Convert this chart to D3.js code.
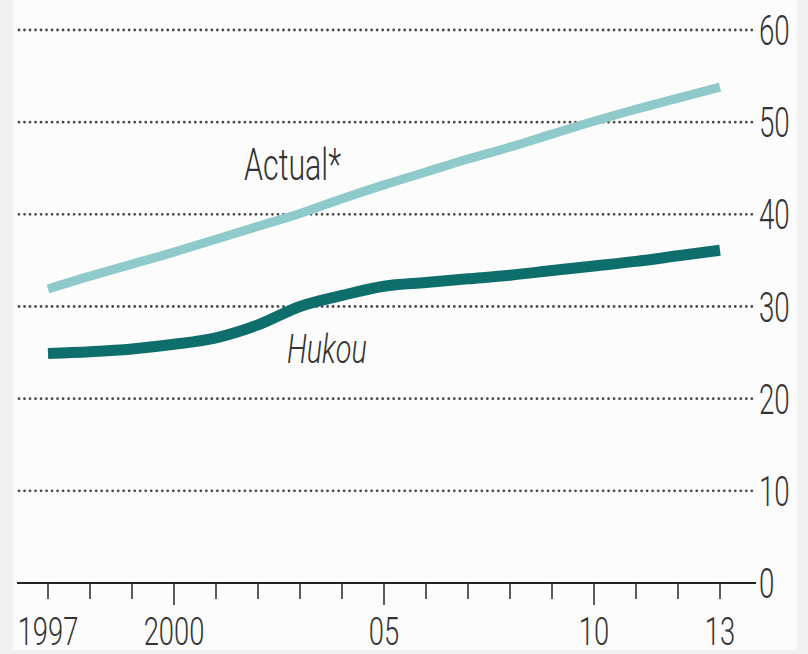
<!DOCTYPE html>
<html><head><meta charset="utf-8">
<script src="https://cdn.jsdelivr.net/npm/d3@7"></script>
<style>
html,body{margin:0;padding:0;background:#f1f1f1;}
svg{display:block;}
text{font-family:"Roboto","Liberation Sans",sans-serif;font-weight:300;fill:#333;}
</style></head>
<body><svg id="c" width="808" height="654"></svg>
<script>
const years = [1997,1998,1999,2000,2001,2002,2003,2004,2005,2006,2007,2008,2009,2010,2011,2012,2013];
const actual = [31.9,33.3,34.6,35.9,37.3,38.7,40.1,41.7,43.2,44.6,46.0,47.3,48.7,50.1,51.4,52.6,53.8];
const hukou = [24.9,25.1,25.4,25.9,26.6,28.0,30.0,31.2,32.2,32.6,33.0,33.4,33.9,34.4,34.9,35.5,36.1];
const yTicks = [0,10,20,30,40,50,60];
const xLabelYears = [1997,2000,2005,2010,2013];
const xLabels = ["1997","2000","05","10","13"];
const majorYears = [2000,2005,2010];

const svg = d3.select("#c");
svg.append("rect").attr("x",13).attr("y",0).attr("width",784).attr("height",650).attr("fill","#fcfcfc");

const x = d3.scaleLinear().domain([1997,2013]).range([48,720]);
const y = d3.scaleLinear().domain([0,60]).range([583,30]);

function narrowText(g, px, py, str, size, sx, anchor, italic){
  const t = g.append("g").attr("transform",`translate(${px},${py}) scale(${sx},1)`)
    .append("text").attr("font-size",size).attr("text-anchor",anchor||"start").text(str);
  if(italic) t.attr("font-style","italic");
  return t;
}

// gridlines
svg.append("g").selectAll("line").data(yTicks.filter(d=>d>0)).join("line")
  .attr("x1",19).attr("x2",756).attr("y1",d=>y(d)).attr("y2",d=>y(d))
  .attr("stroke","#4a4a4a").attr("stroke-width",2.8).attr("stroke-linecap","round")
  .attr("stroke-dasharray","0.01 5.5");

// y labels
const yl = svg.append("g");
yTicks.forEach(d=>narrowText(yl, 759, y(d)+15, String(d), 42, 0.66, "start"));

// x axis
svg.append("line").attr("x1",17).attr("x2",756).attr("y1",y(0)).attr("y2",y(0))
  .attr("stroke","#222").attr("stroke-width",2.2);
svg.append("g").selectAll("line").data(years).join("line")
  .attr("x1",d=>x(d)).attr("x2",d=>x(d)).attr("y1",y(0))
  .attr("y2",d=>majorYears.includes(d)?605:599)
  .attr("stroke","#333").attr("stroke-width",1.6);
const xl = svg.append("g");
xLabelYears.forEach((d,i)=>narrowText(xl, x(d), 645, xLabels[i], 38, 0.72, "middle"));

const line = d3.line().x((d,i)=>x(years[i])).y(d=>y(d)).curve(d3.curveMonotoneX);
svg.append("path").datum(actual).attr("d",line).attr("fill","none")
  .attr("stroke","#8ecaca").attr("stroke-width",9);
svg.append("path").datum(hukou).attr("d",line).attr("fill","none")
  .attr("stroke","#0d6e6b").attr("stroke-width",11);

narrowText(svg, 244, 180, "Actual*", 44, 0.69, "start");
narrowText(svg, 287, 363, "Hukou", 40, 0.72, "start", true);
</script></body></html>
